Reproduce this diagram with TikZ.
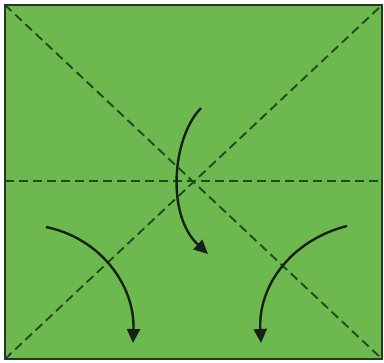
\documentclass[tikz,border=0pt]{standalone}
\usetikzlibrary{arrows.meta}
\definecolor{paper}{RGB}{110,184,80}
\definecolor{edge}{RGB}{38,55,38}
\definecolor{crease}{RGB}{34,74,32}
\definecolor{arrowc}{RGB}{20,34,20}
\tikzset{
  creaseline/.style={crease, line width=1.9pt, dash pattern=on 9pt off 5pt},
  foldarrow/.style={arrowc, line width=2.4pt, -{Triangle[length=14pt,width=13pt]}}
}
\begin{document}
\begin{tikzpicture}[x=1pt,y=-1pt]
\useasboundingbox (0,0) rectangle (384,363);
\fill[white] (0,0) rectangle (384,363);
\coordinate (tl) at (5,5);
\coordinate (tr) at (382,5);
\coordinate (bl) at (5,359);
\coordinate (br) at (382,359);
\coordinate (ml) at (5,181);
\coordinate (mr) at (382,181);
\fill[paper] (tl) rectangle (br);
\draw[creaseline] (tl) -- (br);
\draw[creaseline] (bl) -- (tr);
\draw[creaseline] (ml) -- (mr);
\draw[edge, line width=2.6pt] (tl) rectangle (br);
\coordinate (cs) at (201,108);
\coordinate (ce) at (208,254);
\coordinate (ls) at (46,227);
\coordinate (le) at (133,343);
\coordinate (rs) at (347,226);
\coordinate (re) at (261,343);
\draw[foldarrow] (cs) .. controls (172,138) and (166,215) .. (ce);
\draw[foldarrow] (ls) .. controls (100,238) and (135,285) .. (le);
\draw[foldarrow] (rs) .. controls (292,240) and (258,285) .. (re);
\end{tikzpicture}
\end{document}
